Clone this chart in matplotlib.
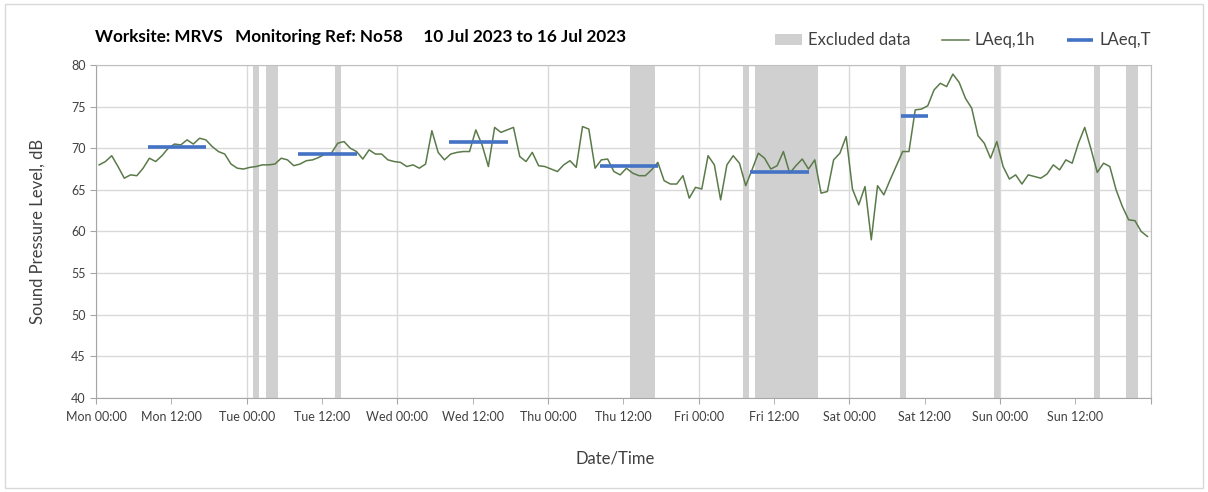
import matplotlib
matplotlib.use('Agg')
import matplotlib.pyplot as plt
import matplotlib.dates as mdates
from matplotlib.patches import Rectangle
from matplotlib.ticker import FuncFormatter
import numpy as np
import pandas as pd

plt.rcParams['font.family'] = ['Lato', 'DejaVu Sans']

# hourly LAeq,1h values, Mon 10 Jul 00:00 onwards (one per hour)
laeq_1h = [
    68.0, 68.4, 69.1, 67.8, 66.4, 66.8, 66.7, 67.6, 68.8, 68.4, 69.1, 70.0,
    70.5, 70.4, 71.0, 70.5, 71.2, 71.0, 70.2, 69.6, 69.3, 68.1, 67.6, 67.5,
    67.7, 67.8, 68.0, 68.0, 68.1, 68.8, 68.6, 67.9, 68.1, 68.5, 68.6, 68.9,
    69.3, 69.4, 70.6, 70.8, 70.0, 69.6, 68.7, 69.8, 69.3, 69.3, 68.6, 68.4,
    68.3, 67.8, 68.0, 67.6, 68.1, 72.1, 69.5, 68.6, 69.3, 69.5, 69.6, 69.6,
    72.2, 70.4, 67.8, 72.5, 71.9, 72.2, 72.5, 69.0, 68.4, 69.5, 67.9, 67.8,
    67.5, 67.2, 68.0, 68.5, 67.7, 72.6, 72.3, 67.6, 68.6, 68.7, 67.2, 66.8,
    67.6, 67.0, 66.7, 66.7, 67.4, 68.3, 66.1, 65.7, 65.7, 66.7, 64.0, 65.3,
    65.1, 69.1, 68.0, 63.8, 68.0, 69.1, 68.2, 65.5, 67.4, 69.4, 68.8, 67.5,
    67.9, 69.6, 67.0, 67.9, 68.7, 67.5, 68.6, 64.6, 64.8, 68.6, 69.4, 71.4,
    65.1, 63.2, 65.4, 59.0, 65.5, 64.4, 66.2, 67.9, 69.6, 69.6, 74.6, 74.7,
    75.1, 77.0, 77.8, 77.4, 78.9, 77.9, 76.0, 74.8, 71.5, 70.6, 68.8, 70.8,
    67.8, 66.3, 66.8, 65.7, 66.8, 66.6, 66.4, 66.9, 68.0, 67.4, 68.6, 68.2,
    70.6, 72.5, 69.9, 67.1, 68.2, 67.8, 65.0, 63.0, 61.4, 61.3, 60.0, 59.4,
]

# excluded periods
excl_start = ['2023-07-11 01:00', '2023-07-11 03:00', '2023-07-11 14:00',
              '2023-07-13 13:00', '2023-07-14 07:00', '2023-07-14 09:00',
              '2023-07-15 08:00', '2023-07-15 23:00', '2023-07-16 15:00',
              '2023-07-16 20:00']
excl_end = ['2023-07-11 02:00', '2023-07-11 05:00', '2023-07-11 15:00',
            '2023-07-13 17:00', '2023-07-14 08:00', '2023-07-14 19:00',
            '2023-07-15 09:00', '2023-07-16 00:00', '2023-07-16 16:00',
            '2023-07-16 22:00']

# LAeq,T periods
t_start = ['2023-07-10 08:15', '2023-07-11 08:15', '2023-07-12 08:15',
           '2023-07-13 08:15', '2023-07-14 08:15', '2023-07-15 08:15']
t_end = ['2023-07-10 17:35', '2023-07-11 17:35', '2023-07-12 17:35',
         '2023-07-13 17:35', '2023-07-14 17:35', '2023-07-15 12:35']
laeq_t = [70.1, 69.35, 70.8, 67.9, 67.2, 73.9]

start = pd.Timestamp('2023-07-10 00:00')
end = pd.Timestamp('2023-07-17 00:00')
times_1h = start + pd.to_timedelta(np.arange(len(laeq_1h)) + 0.5, unit='h')

fig = plt.figure(figsize=(12.08, 4.92), dpi=100)
ax = fig.add_axes([0.0795, 0.191, 0.873, 0.677])

for i, (s, e) in enumerate(zip(excl_start, excl_end)):
    ax.axvspan(pd.Timestamp(s), pd.Timestamp(e), color='#d0d0d0', lw=0, zorder=1,
               label='Excluded data' if i == 0 else None)

ax.plot(times_1h, laeq_1h, color='#5b7a4a', lw=1.1, zorder=3, label='LAeq,1h')
ax.hlines(laeq_t, pd.to_datetime(t_start), pd.to_datetime(t_end), color='#4472c4',
          lw=2.6, zorder=4, label='LAeq,T')

ax.set_xlim(start, end)
ax.set_ylim(40, 80)
ax.set_yticks(range(40, 81, 5))

end_num = mdates.date2num(end)
fmt = FuncFormatter(lambda x, pos: '' if x >= end_num - 1e-6 else mdates.num2date(x).strftime('%a %H:%M'))
ax.xaxis.set_major_locator(mdates.HourLocator(byhour=[0]))
ax.xaxis.set_minor_locator(mdates.HourLocator(byhour=[12]))
ax.xaxis.set_major_formatter(fmt)
ax.xaxis.set_minor_formatter(fmt)

ax.grid(axis='x', which='major', color='#d9d9d9', lw=1, zorder=0)
ax.grid(axis='y', color='#d9d9d9', lw=1, zorder=0)
ax.set_axisbelow(True)
ax.tick_params(axis='both', which='both', direction='out', length=4, color='#a6a6a6',
               labelcolor='#404040', labelsize=9)
ax.tick_params(axis='x', which='both', pad=5)
for side in ['left', 'bottom']:
    ax.spines[side].set_color('#a6a6a6')
for side in ['top', 'right']:
    ax.spines[side].set_color('#bfbfbf')

ax.set_ylabel('Sound Pressure Level, dB', fontsize=12, color='#404040', labelpad=18)
ax.set_xlabel('Date/Time', fontsize=12, color='#404040')
ax.xaxis.set_label_coords(0.492, -0.158)

fig.text(0.0786, 0.925, 'Worksite: MRVS   Monitoring Ref: No58     10 Jul 2023 to 16 Jul 2023',
         fontsize=12.3, fontweight='bold', ha='left', va='center')

fig.legend(loc='center right', bbox_to_anchor=(0.965, 0.918), ncol=3, frameon=False,
           fontsize=12, handlelength=1.6, handletextpad=0.35, columnspacing=1.9,
           labelcolor='#404040')

fig.patches.append(Rectangle((0.004, 0.008), 0.992, 0.984, transform=fig.transFigure,
                             fill=False, ec='#d9d9d9', lw=1))

fig.savefig('out.png', dpi=100)
